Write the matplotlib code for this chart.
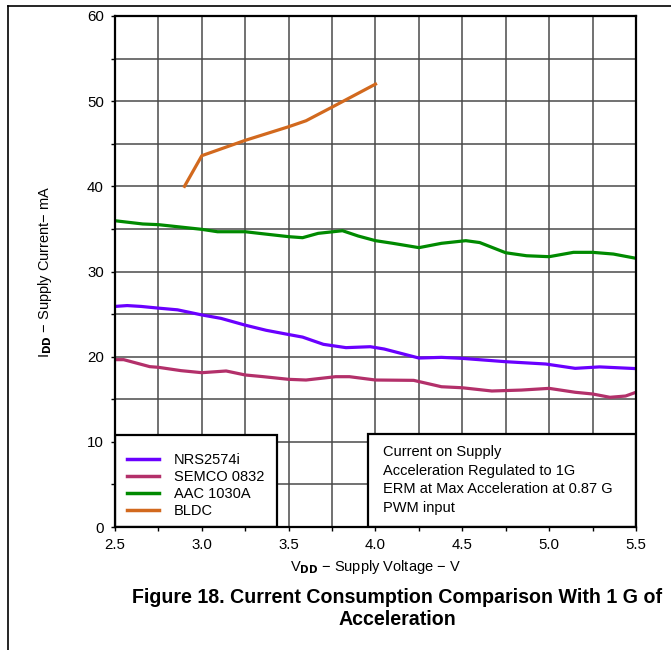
import matplotlib
matplotlib.use("Agg")
import matplotlib.pyplot as plt
from matplotlib.patches import Rectangle
from matplotlib.lines import Line2D

plt.rcParams['font.family'] = ['Liberation Sans', 'DejaVu Sans']

# supply voltage (V) and current (mA) for each actuator driver
nrs_v = [2.5, 2.57, 2.65, 2.75, 2.86, 3.0, 3.11, 3.25, 3.37, 3.5, 3.58, 3.7, 3.83, 3.97, 4.05,
         4.25, 4.38, 4.5, 4.75, 4.98, 5.15, 5.29, 5.5]
nrs_i = [25.9, 26.0, 25.9, 25.7, 25.5, 24.9, 24.5, 23.7, 23.1, 22.6, 22.3, 21.45, 21.06, 21.17, 20.9,
         19.84, 19.92, 19.8, 19.41, 19.14, 18.63, 18.8, 18.6]

semco_v = [2.5, 2.55, 2.7, 2.75, 2.88, 3.0, 3.14, 3.25, 3.35, 3.5, 3.6, 3.77, 3.85, 4.0, 4.22,
           4.38, 4.5, 4.67, 4.84, 5.0, 5.15, 5.25, 5.35, 5.44, 5.5]
semco_i = [19.65, 19.65, 18.83, 18.75, 18.36, 18.12, 18.32, 17.85, 17.66, 17.34, 17.26, 17.65, 17.65,
           17.26, 17.22, 16.47, 16.35, 15.97, 16.08, 16.28, 15.82, 15.62, 15.23, 15.38, 15.82]

aac_v = [2.5, 2.66, 2.75, 3.0, 3.09, 3.25, 3.33, 3.5, 3.58, 3.67, 3.81, 3.9, 4.0, 4.1, 4.25,
         4.38, 4.52, 4.6, 4.75, 4.87, 5.0, 5.14, 5.25, 5.37, 5.5]
aac_i = [35.96, 35.58, 35.5, 34.95, 34.67, 34.67, 34.48, 34.09, 33.97, 34.48, 34.79, 34.17, 33.62,
         33.31, 32.8, 33.31, 33.62, 33.4, 32.2, 31.85, 31.74, 32.25, 32.25, 32.05, 31.55]

bldc_v = [2.9, 3.0, 3.25, 3.5, 3.6, 3.75, 4.0]
bldc_i = [40.0, 43.6, 45.4, 47.0, 47.7, 49.3, 52.0]

labels = ['NRS2574i', 'SEMCO 0832', 'AAC 1030A', 'BLDC']
colors = ['#6a00ff', '#b3306a', '#008a00', '#d2691e']
notes = ['Current on Supply', 'Acceleration Regulated to 1G',
         'ERM at Max Acceleration at 0.87 G', 'PWM input']

fig = plt.figure(figsize=(6.71, 6.5), dpi=100)
ax = fig.add_axes([0.1714, 0.1892, 0.7764, 0.7862])

series = [(nrs_v, nrs_i), (semco_v, semco_i), (aac_v, aac_i), (bldc_v, bldc_i)]
for (v, i), c in zip(series, colors):
    ax.plot(v, i, color=c, lw=2.3, solid_joinstyle='round', zorder=3)

ax.set_xlim(2.5, 5.5)
ax.set_ylim(0, 60)
ax.set_xticks([2.5, 3.0, 3.5, 4.0, 4.5, 5.0, 5.5])
ax.set_xticklabels(['2.5', '3.0', '3.5', '4.0', '4.5', '5.0', '5.5'])
ax.set_yticks(range(0, 61, 10))
ax.set_xticks([2.75 + 0.5 * k for k in range(6)], minor=True)
ax.set_yticks(range(5, 60, 10), minor=True)
ax.grid(True, which='both', color='#4a4a4a', lw=1.1, zorder=1)
ax.tick_params(which='both', labelsize=10.8, length=3, width=1, pad=5)
for s in ax.spines.values():
    s.set_linewidth(1.6)
    s.set_zorder(6)

ax.set_xlabel('V$_{\\mathbf{DD}}$ − Supply Voltage − V', fontsize=10.5, labelpad=4)
ax.set_ylabel('I$_{\\mathbf{DD}}$ − Supply Current− mA', fontsize=10.5, labelpad=24)

# legend box in the lower left corner
ax.add_patch(Rectangle((2.5, 0), 0.93, 10.85, facecolor='white', edgecolor='black',
                       lw=1.6, zorder=4))
handles = [Line2D([], [], color=c, lw=2.5) for c in colors]
leg = ax.legend(handles, labels, loc='upper left', bbox_to_anchor=(0.004, 0.164),
                frameon=False, fontsize=10.5, handlelength=2.2, handletextpad=1.0,
                labelspacing=0.2, borderaxespad=0.3)
leg.set_zorder(5)

# conditions box in the lower right corner
ax.add_patch(Rectangle((3.957, 0), 5.5 - 3.957, 10.9, facecolor='white', edgecolor='black',
                       lw=1.6, zorder=4))
for k, line in enumerate(notes):
    ax.text(4.045, 8.8 - k * 2.17, line, fontsize=10.5, va='center', ha='left', zorder=5)

fig.text(0.592, 0.064, 'Figure 18. Current Consumption Comparison With 1 G of\nAcceleration',
         ha='center', va='center', fontsize=14.1, fontweight='bold', linespacing=1.25)

# page rules
fig.add_artist(Line2D([8 / 671, 1.0], [1 - 6 / 650, 1 - 6 / 650], color='black', lw=1.2))
fig.add_artist(Line2D([8 / 671, 8 / 671], [0, 1 - 6 / 650], color='black', lw=1.2))

fig.savefig('out.png', dpi=100)
